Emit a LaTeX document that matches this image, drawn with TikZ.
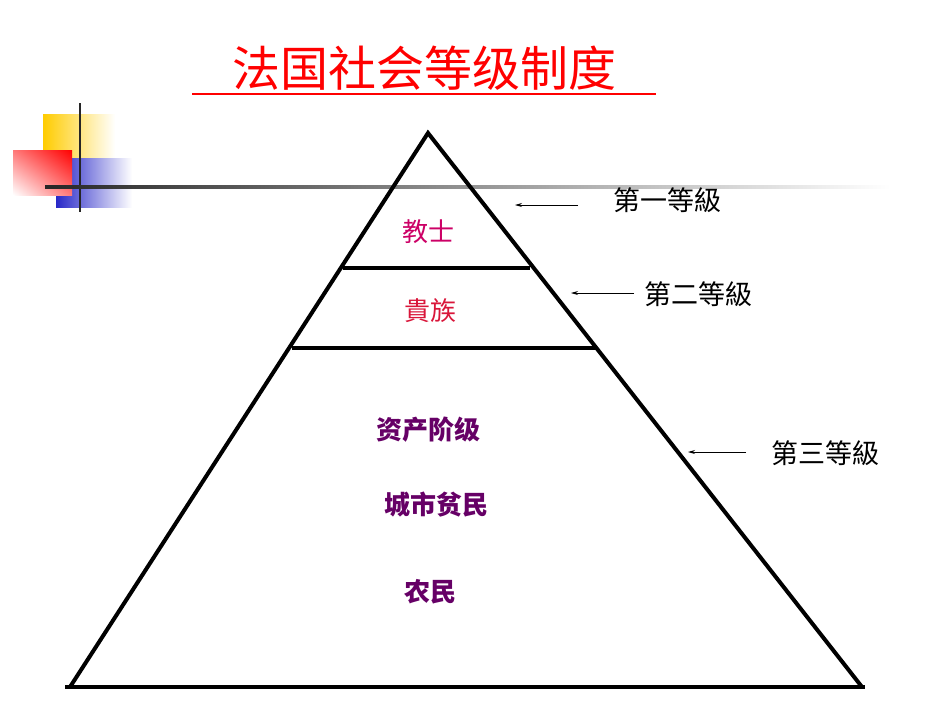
\documentclass[tikz,border=0pt]{standalone}
\usepackage{fontspec}
\newfontfamily\cjk{Noto Sans CJK SC}
\usetikzlibrary{arrows.meta,shadings}
\definecolor{mag}{HTML}{CC0066}
\definecolor{crim}{HTML}{D9163A}
\definecolor{purp}{HTML}{660066}
\begin{document}
\begin{tikzpicture}[x=1pt,y=-1pt,
  lvl/.style={font=\cjk\fontsize{27}{30}\selectfont,text=black,anchor=center},
  inner/.style={font=\cjk\fontsize{26}{30}\selectfont,anchor=center},
  arr/.style={-{Stealth[length=7pt,width=4pt]},line width=0.8pt}]
\useasboundingbox (0,0) rectangle (950,713);
% decoration
\shade[left color={rgb,255:red,255;green,204;blue,0},right color=white] (43,114) rectangle (115,158);
\shade[left color={rgb,255:red,40;green,40;blue,200},right color=white] (56,158) rectangle (132,207);
\shade[lower left=white,upper right=red,lower right={rgb,255:red,255;green,120;blue,120},upper left={rgb,255:red,255;green,120;blue,120}] (13,150) rectangle (72,195);
\draw[line width=2.5pt,black!85] (80,103) -- (80,212);
\shade[left color=black!85,right color=white] (45,185.5) rectangle (890,188.5);
% title
\node[font=\cjk\fontsize{48}{52}\selectfont,text=red] (title) at (424,68) {法国社会等级制度};
\draw[red,line width=2pt] (192,94) -- (656,94);
% pyramid
\coordinate (apex) at (428,133);
\coordinate (bl) at (70,687);
\coordinate (br) at (862,687);
\draw[line width=4pt,line join=miter] (bl) -- (apex) -- (br);
\draw[line width=4pt] (65,687) -- (865,687);
\draw[line width=4pt] (343,268) -- (530,268);
\draw[line width=4pt] (292,348) -- (596,348);
% inner labels
\node[inner,text=mag] (a) at (428,232) {教士};
\node[inner,text=crim] (b) at (430,311) {貴族};
\node[inner,text=purp,font=\cjk\bfseries\fontsize{26}{30}\selectfont] (c) at (428,430) {资产阶级};
\node[inner,text=purp,font=\cjk\bfseries\fontsize{26}{30}\selectfont] (d) at (436,505) {城市贫民};
\node[inner,text=purp,font=\cjk\bfseries\fontsize{26}{30}\selectfont] (e) at (430,592) {农民};
% level labels
\node[lvl] (l1) at (667,200) {第一等級};
\node[lvl] (l2) at (698,294) {第二等級};
\node[lvl] (l3) at (825,453) {第三等級};
\coordinate (t1) at (515,205); \coordinate (s1) at (578,205);
\coordinate (t2) at (571,293); \coordinate (s2) at (634,293);
\coordinate (t3) at (688,452); \coordinate (s3) at (746,452);
\draw[arr] (s1) -- (t1);
\draw[arr] (s2) -- (t2);
\draw[arr] (s3) -- (t3);
\end{tikzpicture}
\end{document}
